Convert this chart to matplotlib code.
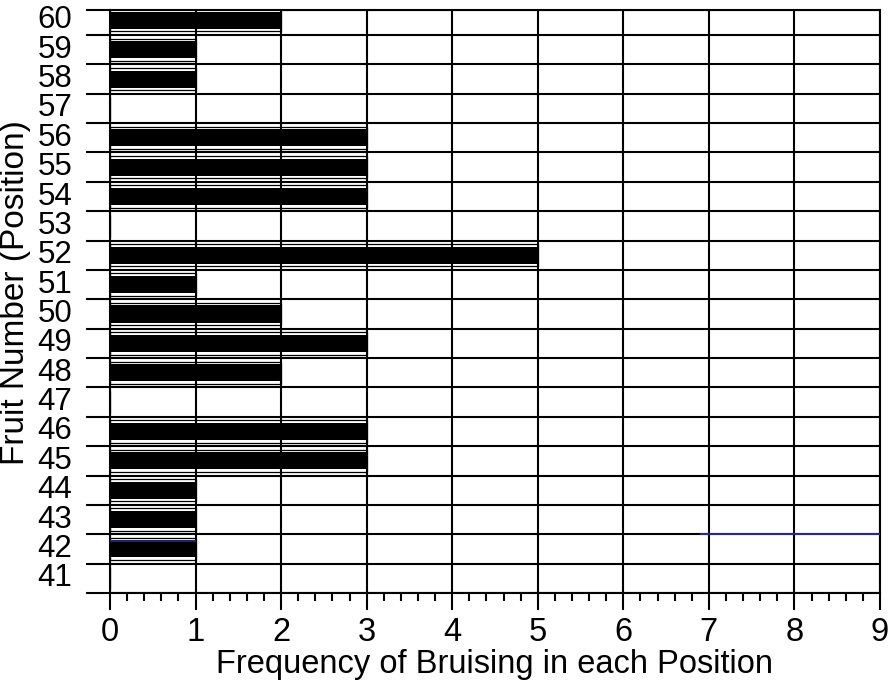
import numpy as np
import matplotlib as mpl
import matplotlib.pyplot as plt

mpl.rcParams['font.family'] = ['Liberation Sans', 'DejaVu Sans']

# fruit positions and how many times each one was bruised
fruit = [60, 59, 58, 57, 56, 55, 54, 53, 52, 51, 50, 49, 48, 47, 46, 45, 44, 43, 42, 41]
bruises = [2, 1, 1, 0, 3, 3, 3, 0, 5, 1, 2, 3, 2, 0, 3, 3, 1, 1, 1, 0]
x_ticks = [0, 1, 2, 3, 4, 5, 6, 7, 8, 9]

fig = plt.figure(figsize=(8.89, 6.87), dpi=100)
ax = fig.add_axes([0.1237, 0.1368, 0.8662, 0.8486])

ytop = 59.85
lw = 1.5
fs = 23.5

# each fruit owns the band [n-1, n]; the bar sits in the middle of it
ycent = np.array(fruit) - 0.5
vals = np.array(bruises)
ax.barh(ycent, vals, height=0.76, left=0, facecolor='white', edgecolor='black',
        linewidth=0.9, zorder=2)
ax.barh(ycent, vals, height=0.58, left=0, color='black', linewidth=0, zorder=5)

# horizontal rules at every band boundary, verticals at every integer
grid_y = list(np.arange(40, 60)) + [ytop]
for gy in grid_y:
    ax.axhline(gy, color='black', lw=lw, zorder=4)
for gx in x_ticks:
    ax.axvline(gx, color='black', lw=lw, zorder=4)

# the print picked up a bluish tint along part of row 42
ax.hlines(42, 6.9, 9, color='#2b2a7a', lw=lw, zorder=6)
ax.hlines(41.77, 0, 1, color='#2b2a7a', lw=1.2, zorder=6)

ax.set_xlim(0, 9)
ax.set_ylim(40, ytop)

for s in ax.spines.values():
    s.set_linewidth(lw)

# y: tick marks at the band boundaries, labels just under each boundary
ax.set_yticks(grid_y)
ax.set_yticklabels([])
ax.tick_params(axis='y', which='major', length=17, width=lw, direction='out')
ax.set_yticks(np.array(fruit) - 0.38, minor=True)
ax.set_yticklabels([str(f) for f in fruit], minor=True, fontsize=22.5)
ax.tick_params(axis='y', which='minor', length=0, pad=27)

ax.set_xticks(x_ticks)
ax.set_xticklabels([str(v) for v in x_ticks], fontsize=fs)
ax.set_xticks(np.arange(0, 9.01, 0.2), minor=True)
ax.tick_params(axis='x', which='major', length=12, width=lw, direction='out', pad=5)
ax.tick_params(axis='x', which='minor', length=6, width=lw, direction='out')

ax.set_xlabel('Frequency of Bruising in each Position', fontsize=fs, labelpad=1)
ax.set_ylabel('Fruit Number (Position)', fontsize=24)
ax.yaxis.set_label_coords(-0.103, 0.515)

fig.savefig('out.png', dpi=100)
